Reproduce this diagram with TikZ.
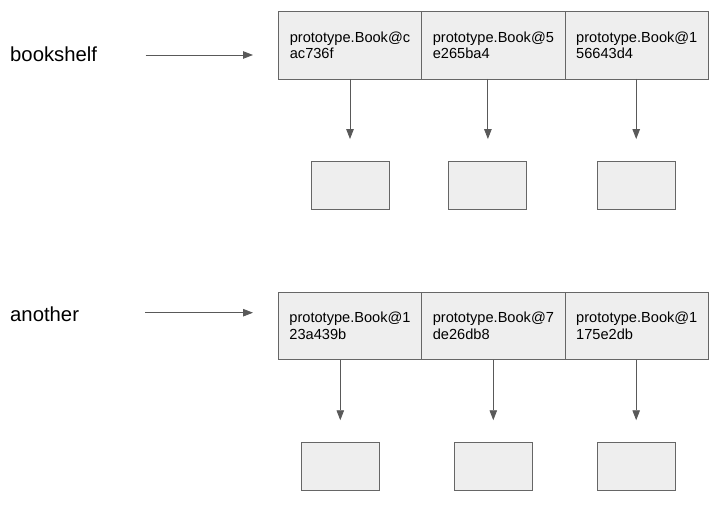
\documentclass[tikz,border=0pt]{standalone}
\usepackage{fontspec}
\setmainfont{Liberation Sans}
\usetikzlibrary{positioning,calc,arrows.meta}
\definecolor{boxfill}{HTML}{EEEEEE}
\definecolor{boxline}{HTML}{666666}
\definecolor{ptrline}{HTML}{595959}
\tikzset{
  cell/.style={draw=boxline, fill=boxfill, line width=0.9pt, outer sep=0pt,
    minimum width=143.4pt, minimum height=67.3pt, align=left, inner sep=0pt,
    font=\fontsize{14.6}{16.7}\selectfont},
  obj/.style={draw=boxline, fill=boxfill, line width=0.9pt,
    minimum width=78pt, minimum height=48pt},
  varname/.style={anchor=base west, inner sep=0pt, font=\fontsize{20.3}{24}\selectfont},
  ptr/.style={draw=ptrline, line width=0.9pt, -{Triangle[length=10pt,width=7.5pt]}}
}
\begin{document}
\begin{tikzpicture}[x=1pt, y=-1pt]
    \useasboundingbox (0,0) rectangle (726,505);
    % bookshelf
    \node[varname] (shelf) at (10,61.7) {bookshelf};
    \node[cell, anchor=north west] (s1) at (278.3,11.7) {prototype.Book@c\\ac736f};
    \node[cell, right=0pt of s1] (s2) {prototype.Book@5\\e265ba4};
    \node[cell, right=0pt of s2] (s3) {prototype.Book@1\\56643d4};
    \node[obj] (sb1) at (350,185.5) {};
    \node[obj] (sb2) at (487.9,185.5) {};
    \node[obj] (sb3) at (636.2,185.5) {};
    \draw[ptr] ($(shelf.base east)+(48.3,-6.7)$) -- ($(shelf.base east -| s1.west)+(-25.3,-6.7)$);
    \draw[ptr] (sb1.north |- s1.south) -- ([yshift=22pt]sb1.north);
    \draw[ptr] (sb2.north |- s2.south) -- ([yshift=22pt]sb2.north);
    \draw[ptr] (sb3.north |- s3.south) -- ([yshift=22pt]sb3.north);
    % another
    \node[varname] (other) at (10,321.7) {another};
    \node[cell, anchor=north west] (a1) at (278.3,292.3) {prototype.Book@1\\23a439b};
    \node[cell, right=0pt of a1] (a2) {prototype.Book@7\\de26db8};
    \node[cell, right=0pt of a2] (a3) {prototype.Book@1\\175e2db};
    \node[obj] (ab1) at (340.3,466.7) {};
    \node[obj] (ab2) at (493.3,466.7) {};
    \node[obj] (ab3) at (636.2,466.7) {};
    \draw[ptr] ($(other.base west)+(135,-9)$) -- ($(other.base west -| a1.west)+(-25.3,-9)$);
    \draw[ptr] (ab1.north |- a1.south) -- ([yshift=22pt]ab1.north);
    \draw[ptr] (ab2.north |- a2.south) -- ([yshift=22pt]ab2.north);
    \draw[ptr] (ab3.north |- a3.south) -- ([yshift=22pt]ab3.north);
\end{tikzpicture}
\end{document}
